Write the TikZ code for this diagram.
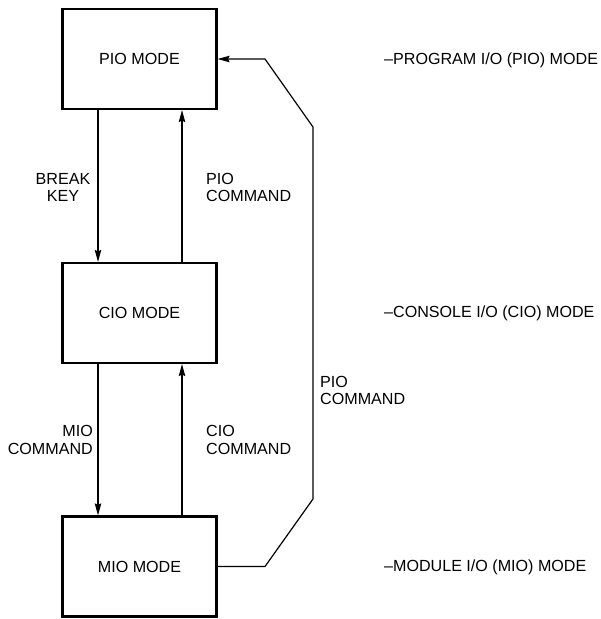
\documentclass[tikz,border=0pt]{standalone}
\usepackage{fontspec}
\setmainfont{Liberation Sans}
\usetikzlibrary{arrows.meta}
\begin{document}
\begin{tikzpicture}[x=1pt,y=-1pt,
  modebox/.style={draw,line width=2.2pt,minimum width=154pt,minimum height=100pt,inner sep=0pt,font=\fontsize{16.1}{17.2}\selectfont},
  lbl/.style={inner sep=0pt,font=\fontsize{16.1}{17.2}\selectfont},
  conn/.style={line width=1.2pt},
  arr/.style={conn,-{Stealth[length=12pt,width=6.5pt,inset=1.5pt]}}]
\useasboundingbox (0,0) rectangle (601,619);
\node[modebox] (pio) at (139.5,59) {PIO MODE};
\node[modebox] (cio) at (139.5,313) {CIO MODE};
\node[modebox] (mio) at (139.5,566.5) {MIO MODE};
\coordinate (lx) at (98,0);
\coordinate (rx) at (182,0);
\draw[arr] (pio.south -| lx) -- (cio.north -| lx);
\draw[arr] (cio.north -| rx) -- (pio.south -| rx);
\draw[arr] (cio.south -| lx) -- (mio.north -| lx);
\draw[arr] (mio.north -| rx) -- (cio.south -| rx);
\coordinate (c1) at (265,566.5);
\coordinate (c2) at (313,499);
\coordinate (c3) at (313,127);
\coordinate (c4) at (265,59);
\draw[arr] (mio.east) -- (c1) -- (c2) -- (c3) -- (c4) -- (pio.east);
\node[lbl,align=center] (l1) at (63,187.5) {BREAK\\KEY};
\node[lbl,align=left,anchor=west] (l2) at (206,187.5) {PIO\\COMMAND};
\node[lbl,align=right,anchor=east] (l3) at (93,440) {MIO\\COMMAND};
\node[lbl,align=left,anchor=west] (l4) at (206,440) {CIO\\COMMAND};
\node[lbl,align=left,anchor=west] (l5) at (320,390.5) {PIO\\COMMAND};
\node[lbl,anchor=west] (r1) at (384,60) {\textendash PROGRAM I/O (PIO) MODE};
\node[lbl,anchor=west] (r2) at (384,313) {\textendash CONSOLE I/O (CIO) MODE};
\node[lbl,anchor=west] (r3) at (384,567) {\textendash MODULE I/O (MIO) MODE};
\end{tikzpicture}
\end{document}
